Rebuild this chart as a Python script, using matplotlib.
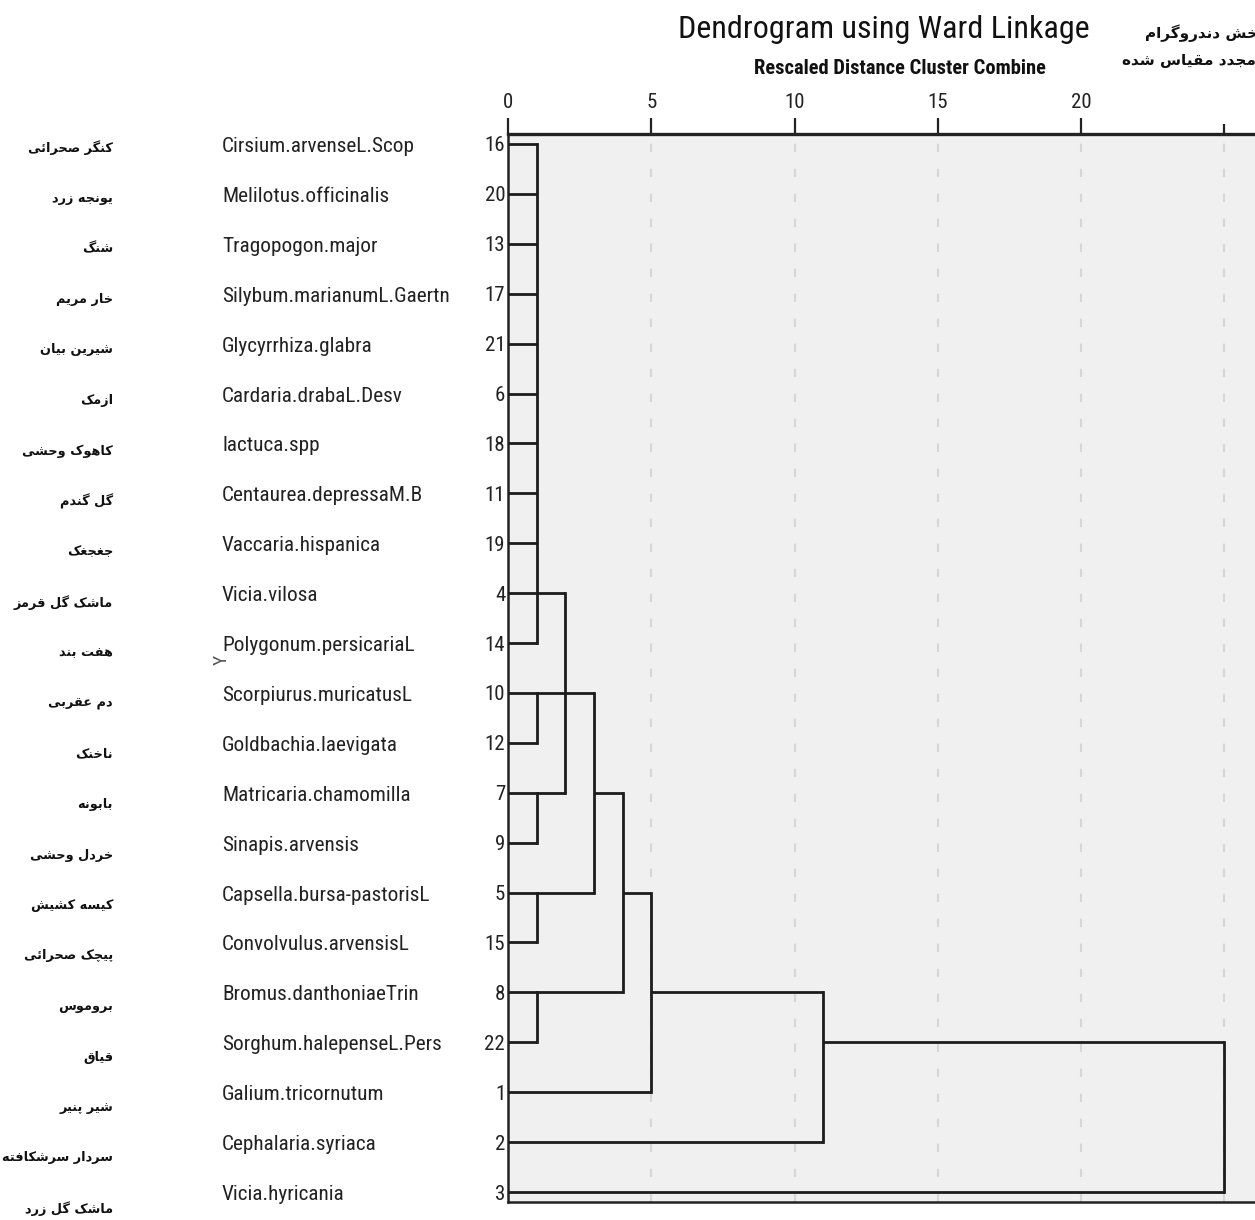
import matplotlib
matplotlib.use('Agg')
import matplotlib.pyplot as plt
import matplotlib.transforms as mtransforms

# leaf order top to bottom, with case numbers and names
cases = [16, 20, 13, 17, 21, 6, 18, 11, 19, 4, 14, 10, 12, 7, 9, 5, 15, 8, 22, 1, 2, 3]
species = ['Cirsium.arvenseL.Scop', 'Melilotus.officinalis', 'Tragopogon.major',
           'Silybum.marianumL.Gaertn', 'Glycyrrhiza.glabra', 'Cardaria.drabaL.Desv',
           'lactuca.spp', 'Centaurea.depressaM.B', 'Vaccaria.hispanica', 'Vicia.vilosa',
           'Polygonum.persicariaL', 'Scorpiurus.muricatusL', 'Goldbachia.laevigata',
           'Matricaria.chamomilla', 'Sinapis.arvensis', 'Capsella.bursa-pastorisL',
           'Convolvulus.arvensisL', 'Bromus.danthoniaeTrin', 'Sorghum.halepenseL.Pers',
           'Galium.tricornutum', 'Cephalaria.syriaca', 'Vicia.hyricania']
persian = ['کنگر صحرائی', 'یونجه زرد', 'شنگ', 'خار مریم', 'شیرین بیان', 'ازمک',
           'کاهوک وحشی', 'گل گندم', 'جغجغک', 'ماشک گل قرمز', 'هفت بند', 'دم عقربی',
           'ناخنک', 'بابونه', 'خردل وحشی', 'کیسه کشیش', 'پیچک صحرائی', 'بروموس',
           'قیاق', 'شیر پنیر', 'سردار سرشکافته', 'ماشک گل زرد']

# cluster joins: members (case number or earlier join 'nK'), rescaled distance,
# and the case whose row carries the join onward
join_members = [
    [16, 20, 13, 17, 21, 6, 18, 11, 19, 4, 14],
    [7, 9],
    [10, 12],
    [5, 15],
    [8, 22],
    ['n0', 'n2', 'n1'],
    ['n5', 'n3'],
    ['n6', 'n4'],
    ['n7', 1],
    ['n8', 2],
    ['n9', 3],
]
join_dist = [1, 1, 1, 1, 1, 2, 3, 4, 5, 11, 25]
join_row_case = [4, 7, 10, 5, 8, 10, 7, 5, 8, 22, 3]

x_ticks = [0, 5, 10, 15, 20]

# ---- arabic shaping (no bidi libs here) ----
FORMS = {
    'ا': (0xFE8D, 0xFE8E), 'د': (0xFEA9, 0xFEAA), 'ر': (0xFEAD, 0xFEAE),
    'ز': (0xFEAF, 0xFEB0), 'و': (0xFEED, 0xFEEE),
    'ب': (0xFE8F, 0xFE90, 0xFE91, 0xFE92), 'ت': (0xFE95, 0xFE96, 0xFE97, 0xFE98),
    'ج': (0xFE9D, 0xFE9E, 0xFE9F, 0xFEA0), 'ح': (0xFEA1, 0xFEA2, 0xFEA3, 0xFEA4),
    'خ': (0xFEA5, 0xFEA6, 0xFEA7, 0xFEA8), 'س': (0xFEB1, 0xFEB2, 0xFEB3, 0xFEB4),
    'ش': (0xFEB5, 0xFEB6, 0xFEB7, 0xFEB8), 'ص': (0xFEB9, 0xFEBA, 0xFEBB, 0xFEBC),
    'ع': (0xFEC9, 0xFECA, 0xFECB, 0xFECC), 'غ': (0xFECD, 0xFECE, 0xFECF, 0xFED0),
    'ف': (0xFED1, 0xFED2, 0xFED3, 0xFED4), 'ق': (0xFED5, 0xFED6, 0xFED7, 0xFED8),
    'ل': (0xFEDD, 0xFEDE, 0xFEDF, 0xFEE0), 'م': (0xFEE1, 0xFEE2, 0xFEE3, 0xFEE4),
    'ن': (0xFEE5, 0xFEE6, 0xFEE7, 0xFEE8), 'ه': (0xFEE9, 0xFEEA, 0xFEEB, 0xFEEC),
    'ئ': (0xFE89, 0xFE8A, 0xFE8B, 0xFE8C), 'پ': (0xFB56, 0xFB57, 0xFB58, 0xFB59),
    'چ': (0xFB7A, 0xFB7B, 0xFB7C, 0xFB7D), 'ک': (0xFB8E, 0xFB8F, 0xFB90, 0xFB91),
    'گ': (0xFB92, 0xFB93, 0xFB94, 0xFB95), 'ی': (0xFBFC, 0xFBFD, 0xFBFE, 0xFBFF),
}


def shape(s):
    out = []
    for i, ch in enumerate(s):
        f = FORMS.get(ch)
        if f is None:
            out.append(ch)
            continue
        prev = s[i - 1] if i > 0 else ''
        nxt = s[i + 1] if i + 1 < len(s) else ''
        jp = prev in FORMS and len(FORMS[prev]) == 4
        jn = nxt in FORMS and len(f) == 4
        if jp and jn:
            out.append(chr(f[3]))
        elif jp:
            out.append(chr(f[1]))
        elif jn:
            out.append(chr(f[2]))
        else:
            out.append(chr(f[0]))
    return ''.join(out)[::-1]


W, H = 1255, 1220
fig = plt.figure(figsize=(W / 100, H / 100), dpi=100)
ax = fig.add_axes([508 / W, 1 - 1202 / H, 1 - 508 / W, (1202 - 134) / H])

narrow = ['Roboto Condensed', 'DejaVu Sans']
line_c = '#1c1c1c'

row = {c: i for i, c in enumerate(cases)}
pos = {}
for k, members in enumerate(join_members):
    d = join_dist[k]
    ys = []
    for m in members:
        if isinstance(m, str):
            mx, my = pos[m]
        else:
            mx, my = 0, row[m]
        ax.plot([mx, d], [my, my], color=line_c, lw=2.0, solid_capstyle='butt', zorder=3)
        ys.append(my)
    ax.plot([d, d], [min(ys), max(ys)], color=line_c, lw=2.0, solid_capstyle='projecting', zorder=3)
    pos['n%d' % k] = (d, row[join_row_case[k]])

ax.set_facecolor('#f0f0f0')
ax.set_xlim(0, (W - 508) / 28.65)
ax.set_ylim(21.2, -0.2)

for gx in [5, 10, 15, 20, 25]:
    ax.axvline(gx, color='#d6d6d6', lw=1.5, ls=(0, (4, 8)), zorder=1)

ax.xaxis.tick_top()
ax.set_xticks(x_ticks)
ax.set_xticks([25], minor=True)
ax.set_xticklabels([str(t) for t in x_ticks], family=narrow, fontsize=15, color='#222222')
ax.tick_params(axis='x', which='major', direction='out', length=11.5, width=1.6, pad=4, color='#222222')
ax.tick_params(axis='x', which='minor', direction='out', length=7, width=1.6, color='#222222')

ax.set_yticks(range(len(cases)))
ax.set_yticklabels([str(c) for c in cases], family=narrow, fontsize=15, color='#222222')
ax.tick_params(axis='y', length=0, pad=2)

ax.spines['right'].set_visible(False)
ax.spines['top'].set_linewidth(2.4)
ax.spines['left'].set_linewidth(1.8)
ax.spines['bottom'].set_linewidth(1.8)
for s in ['top', 'left', 'bottom']:
    ax.spines[s].set_color('#222222')

tr = mtransforms.blended_transform_factory(fig.transFigure, ax.transData)
for i, name in enumerate(species):
    ax.text(222 / W, i + 0.05, name, transform=tr, ha='left', va='center',
            family=narrow, fontsize=15.3, color='#222222', clip_on=False)

for i, name in enumerate(persian):
    fig.text(113 / W, 1 - (148 + 50.5 * i) / H, shape(name), ha='right', va='center',
             family='DejaVu Sans', fontweight='bold', fontsize=9.3, color='#111111')

fig.text(222 / W, 1 - 660 / H, 'Y', rotation=90, ha='center', va='center',
         family=narrow, fontsize=14, color='#555555')

fig.text(884 / W, 1 - 30 / H, 'Dendrogram using Ward Linkage', ha='center', va='center',
         family=narrow, fontsize=23, color='#111111')
fig.text(900 / W, 1 - 69 / H, 'Rescaled Distance Cluster Combine', ha='center', va='center',
         family=narrow, fontweight='bold', fontsize=14.8, color='#111111')

fig.text(1264 / W, 1 - 33 / H, shape('بخش دندروگرام'), ha='right', va='center',
         family='DejaVu Sans', fontweight='bold', fontsize=11, color='#111111')
fig.text(1256 / W, 1 - 60 / H, shape('مجدد مقیاس شده'), ha='right', va='center',
         family='DejaVu Sans', fontweight='bold', fontsize=11, color='#111111')

fig.savefig('out.png', dpi=100)
